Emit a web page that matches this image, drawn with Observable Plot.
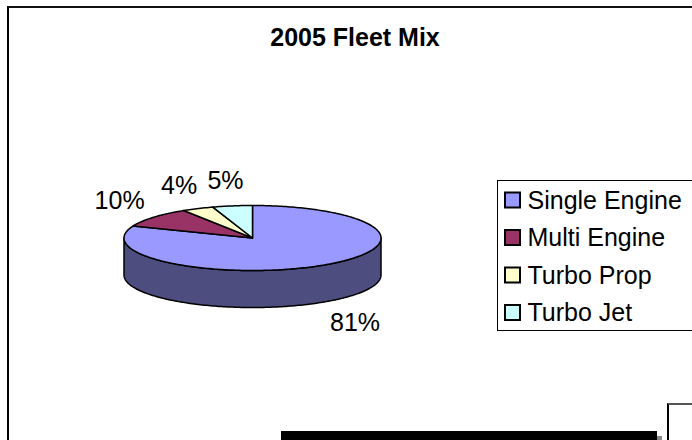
<!DOCTYPE html>
<html><head><meta charset="utf-8">
<script src="https://cdn.jsdelivr.net/npm/d3@7"></script>
<script src="https://cdn.jsdelivr.net/npm/@observablehq/plot@0.6"></script>
<style>
html,body{margin:0;padding:0;background:#fff;}
#wrap{position:relative;width:692px;height:440px;overflow:hidden;font-family:"Liberation Sans",Arial,sans-serif;}
#wrap svg{position:absolute;left:0;top:0;}
.deco{position:absolute;box-sizing:border-box;}
#title{position:absolute;left:0;width:710px;top:25px;text-align:center;font-weight:bold;font-size:25px;line-height:25px;color:#000;}
</style></head><body><div id="wrap"></div>
<script>
const title = "2005 Fleet Mix";
const categories = ["Single Engine", "Multi Engine", "Turbo Prop", "Turbo Jet"];
const values = [81, 10, 4, 5];
const labels = ["81%", "10%", "4%", "5%"];
const colors = ["#9999FF", "#993366", "#FFFFCC", "#CCFFFF"];

const W = 692, H = 440;
const cx = 252, cy = 237.5, rx = 128.5, ry = 32.5, depth = 37;
const total = d3.sum(values);
let acc = 0;
const slices = values.map((v, i) => {
  const a0 = acc / total * 2 * Math.PI; acc += v;
  const a1 = acc / total * 2 * Math.PI;
  return {i, cat: categories[i], a0, a1, color: colors[i], label: labels[i]};
});
const px = a => cx + rx * Math.sin(a);
const py = a => cy - ry * Math.cos(a);
function arcPts(a0, a1, dy = 0) {
  const n = Math.max(2, Math.ceil((a1 - a0) / (Math.PI / 180)));
  return d3.range(n + 1).map(k => { const a = a0 + (a1 - a0) * k / n; return {x: px(a), y: py(a) + dy}; });
}
function darken(c) { const r = d3.rgb(c); return d3.rgb(r.r * 0.5, r.g * 0.5, r.b * 0.5).formatHex(); }
const sideRows = [], topRows = [];
slices.forEach(s => {
  const b0 = Math.max(s.a0, Math.PI / 2), b1 = Math.min(s.a1, 3 * Math.PI / 2);
  if (b1 > b0) {
    const top = arcPts(b0, b1), bot = arcPts(b0, b1, depth).reverse();
    [...top, ...bot].forEach(p => sideRows.push({...p, key: s.cat, color: darken(s.color)}));
  }
  [{x: cx, y: cy}, ...arcPts(s.a0, s.a1)].forEach(p => topRows.push({...p, key: s.cat, color: s.color}));
});
const labelRows = slices.map(s => {
  const m = (s.a0 + s.a1) / 2; const front = Math.cos(m) < 0;
  return {x: cx + (rx + (front ? 54 : 44)) * Math.sin(m), y: cy - (ry + 25) * Math.cos(m) + (front ? depth : 0), text: s.label};
});
const legX = 505, legY0 = 200, legStep = 37.5, sw = 15;
const legendRows = categories.map((c, i) => ({cat: c, color: colors[i], y: legY0 + i * legStep}));

const chart = Plot.plot({
  width: W, height: H, margin: 0,
  x: {domain: [0, W], range: [0, W], axis: null},
  y: {domain: [0, H], range: [0, H], axis: null},
  color: {type: "identity"},
  style: {fontFamily: '"Liberation Sans", Arial, sans-serif', background: "transparent"},
  marks: [
    Plot.line(sideRows, {x: "x", y: "y", z: "key", fill: "color", stroke: "#000", strokeWidth: 1.5, curve: "linear-closed"}),
    Plot.line(topRows, {x: "x", y: "y", z: "key", fill: "color", stroke: "#000", strokeWidth: 1.5, curve: "linear-closed"}),
    Plot.text(labelRows, {x: "x", y: "y", text: "text", fontSize: 25, fill: "#000"}),
    Plot.rect(legendRows, {x1: () => legX, x2: () => legX + sw, y1: d => d.y - sw / 2, y2: d => d.y + sw / 2, fill: "color", stroke: "#000", strokeWidth: 2}),
    Plot.text(legendRows, {x: () => legX + sw + 7, y: "y", text: "cat", textAnchor: "start", fontSize: 25, fill: "#000"})
  ]
});
const wrap = document.getElementById("wrap");
wrap.appendChild(chart);
const t = document.createElement("div"); t.id = "title"; t.textContent = title; wrap.appendChild(t);
function deco(css) { const d = document.createElement("div"); d.className = "deco"; d.style.cssText = css; wrap.appendChild(d); }
deco("left:7px;top:6px;width:800px;height:500px;border-left:2px solid #000;border-top:2px solid #111;");
deco("left:497px;top:180px;width:220px;height:151px;border:1px solid #000;");
deco("left:281px;top:431px;width:376px;height:12px;background:#000;");
deco("left:657px;top:436px;width:5px;height:8px;background:#888;");
deco("left:667px;top:403px;width:60px;height:60px;border-left:2px solid #000;border-top:2px solid #555;");
</script></body></html>
